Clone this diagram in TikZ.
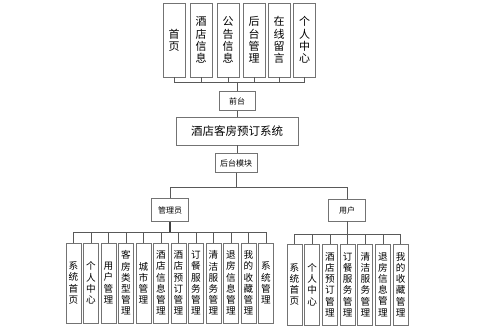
\documentclass[tikz,border=0pt]{standalone}
\usepackage{fontspec}
\newfontfamily\cjk{Noto Sans CJK SC}
\begin{document}
\begin{tikzpicture}[x=1pt,y=-1pt,
  ln/.style={draw=black!65,line width=0.8pt},
  bx/.style={draw=black!55,line width=0.8pt,fill=white,inner sep=0pt,align=center},
  topbox/.style={bx,minimum width=22pt,minimum height=74pt,font={\cjk\fontsize{11}{12.3}\selectfont}},
  kid/.style={bx,minimum width=15pt,minimum height=80pt,font={\cjk\fontsize{9.6}{11.2}\selectfont}},
  lab/.style={bx,minimum height=19pt,font={\cjk\fontsize{8}{9}\selectfont}},
]
\useasboundingbox (0,0) rectangle (499,331);
% top modules
\node[topbox] (t1) at (174,40) {首\\页};
\node[topbox] (t2) at (201,40) {酒\\店\\信\\息};
\node[topbox] (t3) at (228,40) {公\\告\\信\\息};
\node[topbox] (t4) at (254,40) {后\\台\\管\\理};
\node[topbox] (t5) at (279,40) {在\\线\\留\\言};
\node[topbox] (t6) at (304.5,40) {个\\人\\中\\心};
\coordinate (b1) at (237,82);
\foreach \i in {1,...,6} {\draw[ln] (t\i.south) |- (b1);}
% center column
\node[lab,minimum width=36pt] (qt) at (237,101) {前台};
\node[bx,minimum width=122pt,minimum height=28pt,font={\cjk\fontsize{11.5}{13}\selectfont}] (sys) at (237,131) {酒店客房预订系统};
\node[lab,minimum width=42pt] (ht) at (236,163) {后台模块};
\draw[ln] (b1) -- (qt.north);
\draw[ln] (qt.south) -- (qt.south |- sys.north);
\draw[ln] (sys.south) -- (sys.south |- ht.north);
\coordinate (b2) at (236,187);
\node[lab,minimum width=37pt,minimum height=23pt] (adm) at (170,210) {管理员};
\node[lab,minimum width=37pt,minimum height=22pt] (usr) at (347,210) {用户};
\draw[ln] (ht.south) -- (b2);
\draw[ln] (b2) -| (adm.north);
\draw[ln] (b2) -| (usr.north);
% admin children
\coordinate (ab) at (170,232);
\foreach \t [count=\i] in {系\\统\\首\\页, 个\\人\\中\\心, 用\\户\\管\\理, 客\\房\\类\\型\\管\\理, 城\\市\\管\\理, 酒\\店\\信\\息\\管\\理, 酒\\店\\预\\订\\管\\理, 订\\餐\\服\\务\\管\\理, 清\\洁\\服\\务\\管\\理, 退\\房\\信\\息\\管\\理, 我\\的\\收\\藏\\管\\理, 系\\统\\管\\理} {
  \node[kid] (a\i) at ({73.5+17.5*(\i-1)},283) {\t};
  \draw[ln] (ab) -| (a\i.north);
}
\draw[line width=1.4pt,draw=black!75] (adm.south) -- (ab);
% user children
\coordinate (ub) at (347,234);
\foreach \t [count=\i] in {系\\统\\首\\页, 个\\人\\中\\心, 酒\\店\\预\\订\\管\\理, 订\\餐\\服\\务\\管\\理, 清\\洁\\服\\务\\管\\理, 退\\房\\信\\息\\管\\理, 我\\的\\收\\藏\\管\\理} {
  \node[kid,minimum height=81pt] (u\i) at ({294.5+17.7*(\i-1)},284.5) {\t};
  \draw[ln] (ub) -| (u\i.north);
}
\draw[ln] (usr.south) -- (ub);
\end{tikzpicture}
\end{document}
